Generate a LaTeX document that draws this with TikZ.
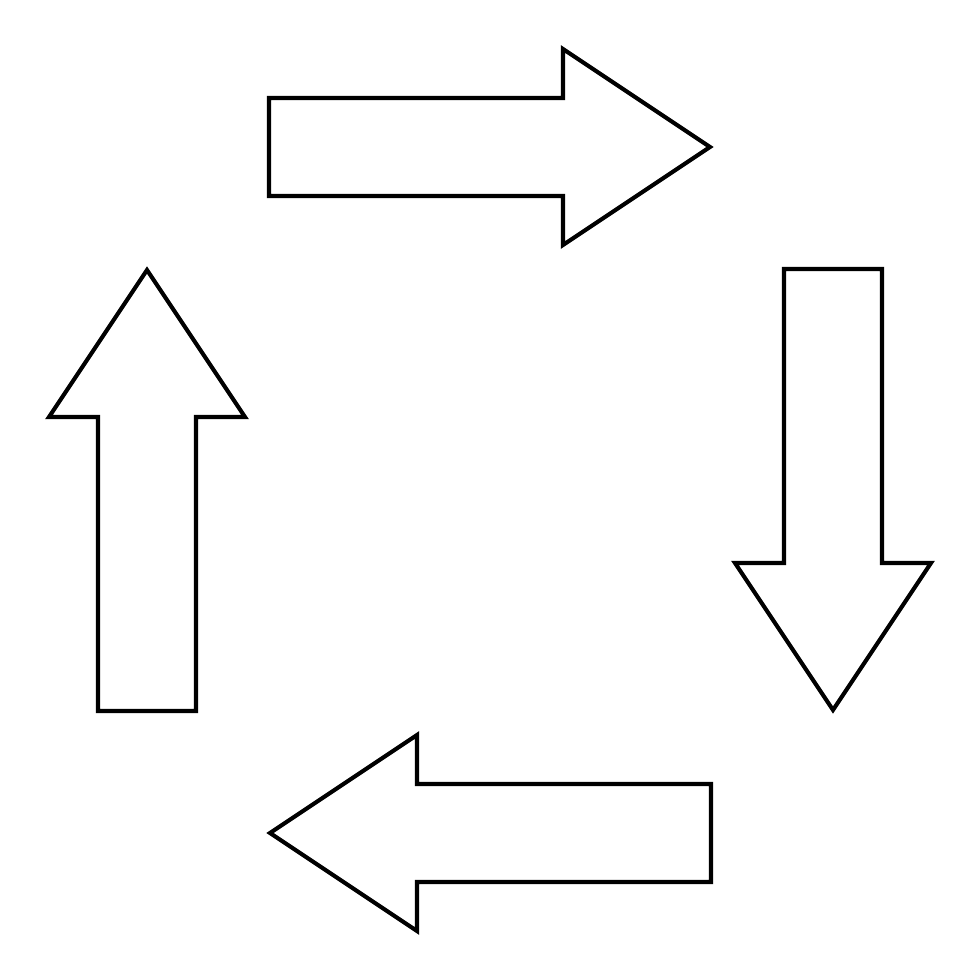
\documentclass[tikz,border=0pt]{standalone}
\usepackage{tikz}

\begin{document}
\begin{tikzpicture}[
    x=0.1mm, y=0.1mm,
    blockarrow/.style={draw=black, line width=1.15pt, line join=miter, fill=white}
]

\useasboundingbox (-490,-490) rectangle (490,490);

% one arrow pointing right, turned a quarter at a time round the centre
\foreach \a in {0,90,180,270}{
  \draw[blockarrow, rotate=-\a] (-221,294) -- (73,294) -- (73,245) -- (220,343)
    -- (73,441) -- (73,392) -- (-221,392) -- cycle;
}

\end{tikzpicture}
\end{document}
